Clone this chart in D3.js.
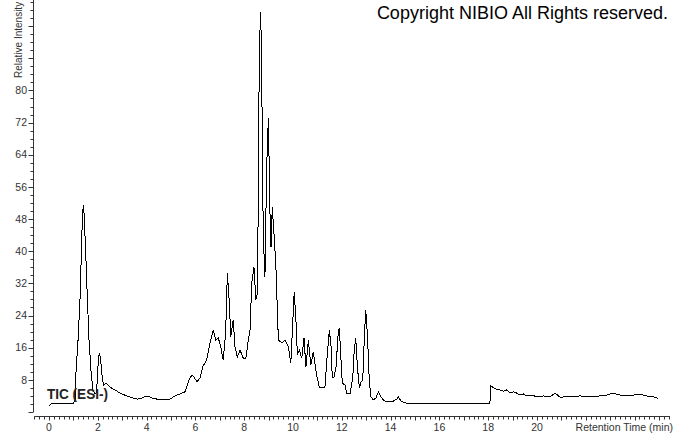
<!DOCTYPE html>
<html><head><meta charset="utf-8">
<script src="https://cdn.jsdelivr.net/npm/d3@7/dist/d3.min.js"></script>
<style>html,body{margin:0;padding:0;background:#fff;} svg{display:block;}</style>
</head><body>
<svg id="chart" width="674" height="434"></svg>
<script>
// ---- data ----
const rt = [0,0.12,0.98,1.07,1.11,1.19,1.27,1.33,1.37,1.41,1.43,1.50,1.56,1.64,1.72,1.80,1.89,1.95,2.01,2.06,2.11,2.17,2.23,2.34,2.50,2.70,2.91,3.11,3.32,3.61,3.81,4.02,4.22,4.43,4.75,4.96,5.16,5.37,5.57,5.74,5.86,5.94,6.07,6.19,6.31,6.46,6.60,6.73,6.84,6.94,7.04,7.14,7.24,7.31,7.39,7.45,7.55,7.62,7.72,7.83,7.96,8.07,8.17,8.24,8.31,8.40,8.48,8.54,8.58,8.62,8.68,8.73,8.78,8.85,8.92,8.99,9.06,9.10,9.15,9.22,9.30,9.40,9.54,9.67,9.81,9.91,9.97,10.05,10.12,10.18,10.26,10.36,10.45,10.53,10.63,10.73,10.83,10.97,11.08,11.18,11.31,11.41,11.49,11.56,11.61,11.68,11.76,11.86,11.90,11.95,12.02,12.13,12.20,12.34,12.45,12.51,12.57,12.64,12.72,12.79,12.86,12.92,12.98,13.03,13.09,13.13,13.20,13.29,13.40,13.50,13.61,13.70,13.84,14.05,14.25,14.32,14.45,14.66,15.20,16.02,16.84,17.66,17.87,18.07,18.11,18.21,18.35,18.48,18.62,18.76,18.89,19.03,19.17,19.30,19.44,19.58,19.78,19.99,20.26,20.53,20.74,20.94,21.35,21.76,22.31,22.58,22.86,23.13,23.40,23.68,23.95,24.22,24.49,24.76,24.95];
const intensity = [1.6,2.1,2.1,3.0,10.4,17.9,27.9,40.3,49.0,51.5,50.2,40.3,30.3,17.9,10.4,5.5,4.5,5.0,11.7,14.7,13.4,9.2,6.7,7.2,6.2,5.5,4.7,4.2,3.7,3.2,3.5,4.0,3.5,3.2,3.2,3.2,4.0,4.5,5.0,8.0,9.2,8.7,7.5,8.5,11.4,12.9,17.2,20.4,17.9,18.4,16.2,12.9,19.7,34.6,27.1,18.7,22.9,16.2,13.7,15.4,13.4,13.4,17.9,20.4,32.1,36.1,27.9,29.6,54.5,90.8,99.5,75.9,44.5,33.6,60.9,73.1,48.5,41.0,51.0,44.5,36.1,17.9,17.2,17.9,16.2,12.2,19.7,29.9,22.9,14.2,15.4,13.4,18.4,11.2,17.9,11.7,14.9,9.2,6.2,6.0,6.2,14.7,20.4,16.2,8.5,8.7,10.9,20.4,20.9,14.7,7.2,6.7,4.7,4.7,8.7,15.4,18.4,11.2,6.0,7.5,8.0,17.9,25.4,21.1,13.7,7.2,3.7,3.0,3.5,5.0,3.7,3.0,2.5,2.5,3.2,3.7,2.6,2.2,2.2,2.1,2.1,2.0,2.2,2.2,6.5,6.1,5.6,5.5,5.2,5.5,4.8,5.0,4.7,4.2,4.5,4.0,4.2,3.8,4.0,3.8,4.7,3.7,3.8,4.0,3.8,4.0,4.2,4.7,4.2,4.0,4.2,4.4,4.0,3.8,3.4];
const xTickLabels = [0,2,4,6,8,10,12,14,16,18,20];
const yTickLabels = [8,16,24,32,40,48,56,64,72,80];
const copyrightText = "Copyright NIBIO All Rights reserved.";
const traceLabel = "TIC (ESI-)";
const xTitle = "Retention Time (min)";
const yTitle = "Relative Intensity";

// ---- drawing ----
const svg = d3.select("#chart");
const font = "'Liberation Sans', Arial, sans-serif";
const axisColor = "#333";

const x = d3.scaleLinear().domain([0, 25]).range([49, 659]);
const y = d3.scaleLinear().domain([0, 102.5]).range([412, 0]);

// Y axis
const yAxisX = 33.5;
const yMinor = d3.range(0, 102.5, 2);
svg.append("line").attr("x1", yAxisX).attr("x2", yAxisX).attr("y1", 0).attr("y2", y(0))
  .attr("stroke", axisColor).attr("stroke-width", 1);
svg.append("g").selectAll("line").data(yMinor).join("line")
  .attr("x1", yAxisX).attr("x2", d => yAxisX - (d % 8 === 0 ? 5 : 3))
  .attr("y1", d => Math.round(y(d)) + 0.5).attr("y2", d => Math.round(y(d)) + 0.5)
  .attr("stroke", axisColor).attr("stroke-width", 1);
svg.append("g").selectAll("text").data(yTickLabels).join("text")
  .attr("x", 27).attr("y", d => y(d)).attr("dy", "0.35em")
  .attr("text-anchor", "end").attr("font-family", font).attr("font-size", 10.5)
  .attr("fill", "#333").text(d => d);

svg.append("text")
  .attr("transform", "translate(22,78) rotate(-90)")
  .attr("text-anchor", "start").attr("font-family", font).attr("font-size", 10)
  .attr("fill", "#333").text(yTitle);

// X axis
const xAxisY = 416.5;
const xAxisScale = x.copy().domain([-0.6, 25.45]).range([x(-0.6), x(25.45)]);
const xMinor = d3.range(-0.6, 25.45, 0.2).map(d => Math.round(d * 10) / 10);
svg.append("line").attr("x1", x(-0.6)).attr("x2", x(25.45)).attr("y1", xAxisY).attr("y2", xAxisY)
  .attr("stroke", axisColor).attr("stroke-width", 1);
svg.append("g").selectAll("line").data(xMinor).join("line")
  .attr("x1", d => Math.round(xAxisScale(d)) + 0.5).attr("x2", d => Math.round(xAxisScale(d)) + 0.5)
  .attr("y1", xAxisY).attr("y2", d => xAxisY + (Math.abs(d % 1) < 1e-6 ? 4 : 3))
  .attr("stroke", axisColor).attr("stroke-width", 1);
svg.append("g").selectAll("text").data(xTickLabels).join("text")
  .attr("x", d => x(d)).attr("y", 431)
  .attr("text-anchor", "middle").attr("font-family", font).attr("font-size", 10.5)
  .attr("fill", "#333").text(d => d);
svg.append("text").attr("x", 673).attr("y", 431).attr("text-anchor", "end")
  .attr("font-family", font).attr("font-size", 10.5).attr("fill", "#333").text(xTitle);

// Trace
const pts = rt.map((t, i) => [t, intensity[i]]);
svg.append("path").datum(pts)
  .attr("d", d3.line().x(d => x(d[0])).y(d => y(d[1])))
  .attr("fill", "none").attr("stroke", "#000").attr("stroke-width", 1)
  .attr("stroke-linejoin", "miter").attr("shape-rendering", "crispEdges");

// Trace label
svg.append("text").attr("x", 47).attr("y", 398.5)
  .attr("font-family", "'Liberation Sans Narrow', 'Liberation Sans', Arial, sans-serif")
  .attr("font-size", 14).attr("font-weight", "bold").attr("fill", "#222")
  .attr("textLength", 61).attr("lengthAdjust", "spacingAndGlyphs")
  .text(traceLabel);

// Copyright
svg.append("text").attr("x", 668).attr("y", 18.5).attr("text-anchor", "end")
  .attr("font-family", font).attr("font-size", 18).attr("fill", "#000")
  .text(copyrightText);
</script>
</body></html>
